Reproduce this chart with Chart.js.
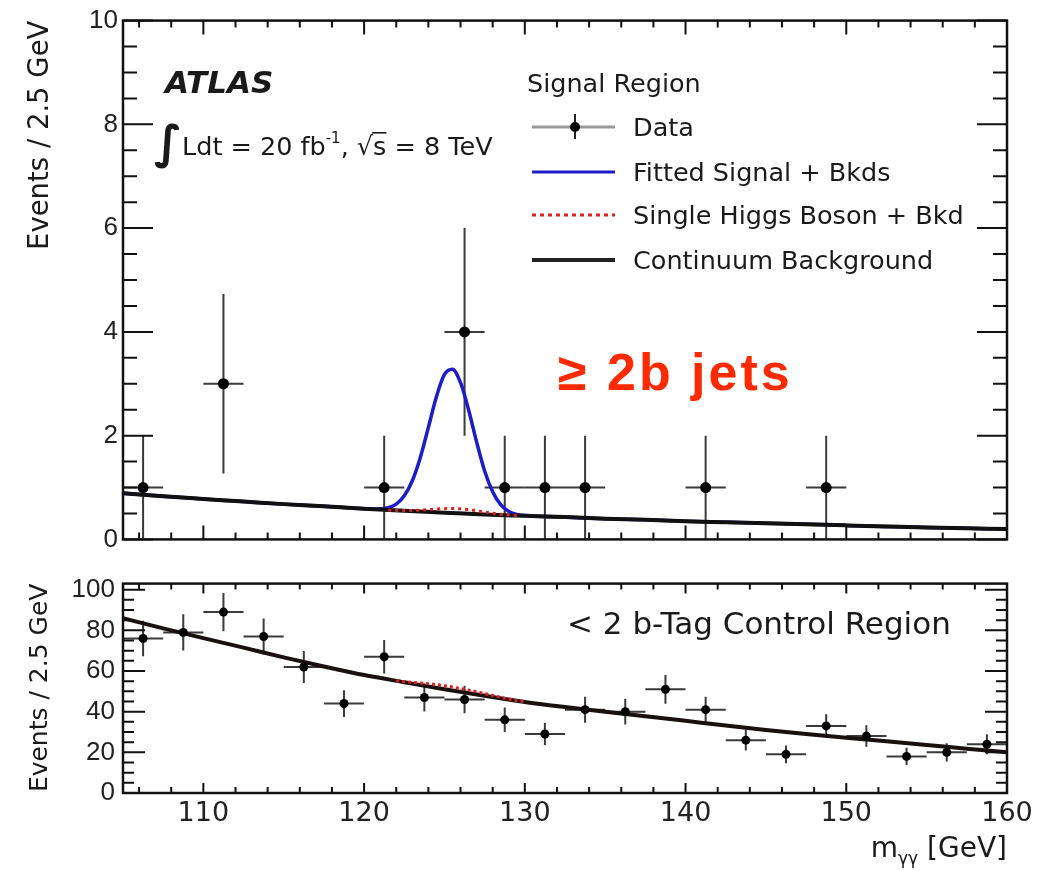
<!DOCTYPE html>
<html>
<head>
<meta charset="utf-8">
<script src="https://cdn.jsdelivr.net/npm/chart.js@4.4.0/dist/chart.umd.min.js"></script>
<style>
  body { margin: 0; background: #fff; }
  canvas { position: absolute; left: 0; }
  #sig { top: 0; }
  #ctrl { top: 560px; }
</style>
</head>
<body>
<canvas id="sig" width="1048" height="560"></canvas>
<canvas id="ctrl" width="1048" height="311"></canvas>
<script>
// tick labels
const xTicks = [110, 120, 130, 140, 150, 160];
const sigYTicks = [0, 2, 4, 6, 8, 10];
const ctrlYTicks = [0, 20, 40, 60, 80, 100];

// signal region data (>= 2 b-tags), bin centres in GeV
const sigX = [106.25, 111.25, 121.25, 126.25, 128.75, 131.25, 133.75, 141.25, 148.75];
const sigY = [1, 3, 1, 4, 1, 1, 1, 1, 1];
const sigErr = [1, 1.73, 1, 2, 1, 1, 1, 1, 1];

// control region data (< 2 b-tags)
const ctrlX = [106.25, 108.75, 111.25, 113.75, 116.25, 118.75, 121.25, 123.75, 126.25, 128.75, 131.25,
               133.75, 136.25, 138.75, 141.25, 143.75, 146.25, 148.75, 151.25, 153.75, 156.25, 158.75];
const ctrlY = [76, 79, 89, 77, 62, 44, 67, 47, 46, 36, 29, 41, 40, 51, 41, 26, 19, 33, 28, 18, 20, 24];
const ctrlErr = [8.7, 8.9, 9.4, 8.8, 7.9, 6.6, 8.2, 6.9, 6.8, 6.0, 5.4, 6.4, 6.3, 7.1, 6.4, 5.1, 4.4, 5.7, 5.3, 4.2, 4.5, 4.9];
const binHalf = 1.25;

// continuum background curves
const bgX = [105, 107.5, 110, 112.5, 115, 117.5, 120, 122.5, 125, 127.5, 130, 132.5, 135, 137.5, 140,
             142.5, 145, 147.5, 150, 152.5, 155, 157.5, 160];
const sigBgY = [0.89, 0.83, 0.78, 0.73, 0.68, 0.64, 0.59, 0.55, 0.515, 0.48, 0.455, 0.43, 0.40, 0.38, 0.35,
                0.33, 0.31, 0.29, 0.27, 0.25, 0.23, 0.215, 0.20];
const ctrlBgY = [86, 81, 76.2, 71.5, 66.7, 62.2, 58, 54.5, 51, 47.8, 44.8, 42.3, 40, 37.8, 35.5,
                 33.2, 31, 29, 27.2, 25.4, 23.6, 21.8, 20];

// fitted signal + backgrounds (signal region)
const fitX = [105, 107.5, 110, 112.5, 115, 117.5, 120,
              120.5, 121, 121.5, 122, 122.5, 123, 123.5, 124, 124.5, 125,
              125.5, 126, 126.5, 127, 127.5, 128, 128.5, 129, 129.5, 130,
              132.5, 135, 137.5, 140, 142.5, 145, 147.5, 150, 152.5, 155, 157.5, 160];
const fitY = [0.89, 0.83, 0.78, 0.73, 0.68, 0.64, 0.59,
              0.585, 0.59, 0.61, 0.68, 0.84, 1.13, 1.58, 2.16, 2.75, 3.18,
              3.28, 3.02, 2.50, 1.88, 1.32, 0.92, 0.67, 0.54, 0.48, 0.46,
              0.43, 0.40, 0.38, 0.35, 0.33, 0.31, 0.29, 0.27, 0.25, 0.23, 0.215, 0.20];

// single Higgs boson + background
const higgsX = [121.5, 122.5, 123.5, 124.5, 125.5, 126.5, 127.5, 128.5, 129.5];
const higgsY = [0.565, 0.555, 0.565, 0.585, 0.595, 0.575, 0.525, 0.485, 0.46];
const ctrlHiggsX = [122, 123, 124, 125, 126, 127, 128, 129, 130];
const ctrlHiggsY = [55.2, 54.4, 53.8, 52.8, 51.4, 49.8, 48.0, 46.2, 44.9];

const legendLabels = ['Data', 'Fitted Signal + Bkds', 'Single Higgs Boson + Bkd', 'Continuum Background'];

const BLUE = '#1c1cc8';
const RED = '#e02020';
const TXT = '#1a1a1a';

function pts(xs, ys) { return xs.map((x, i) => ({ x: x, y: ys[i] })); }

// error bars drawn under the markers
const errorBars = {
  id: 'errorBars',
  beforeDatasetsDraw(chart, args, o) {
    const { ctx, scales: { x, y } } = chart;
    ctx.save();
    ctx.strokeStyle = '#3a3a3a';
    ctx.lineWidth = o.width;
    o.xs.forEach((v, i) => {
      const px = x.getPixelForValue(v);
      const py = y.getPixelForValue(o.ys[i]);
      ctx.beginPath();
      ctx.moveTo(x.getPixelForValue(v - binHalf), py);
      ctx.lineTo(x.getPixelForValue(v + binHalf), py);
      ctx.moveTo(px, y.getPixelForValue(Math.max(0, o.ys[i] - o.errs[i])));
      ctx.lineTo(px, y.getPixelForValue(o.ys[i] + o.errs[i]));
      ctx.stroke();
    });
    ctx.restore();
  }
};

// ROOT style frame with inward ticks on all four sides
const frameTicks = {
  id: 'frameTicks',
  afterDraw(chart, args, o) {
    const { ctx, chartArea: a, scales: { x, y } } = chart;
    const steps = (min, max, step) => {
      const out = [];
      const n0 = Math.ceil(min / step - 1e-9), n1 = Math.floor(max / step + 1e-9);
      for (let n = n0; n <= n1; n++) out.push(n * step);
      return out;
    };
    const isMajor = (v, m) => Math.abs(v / m - Math.round(v / m)) < 1e-6;
    ctx.save();
    ctx.strokeStyle = '#111';
    ctx.lineWidth = 2;
    ctx.beginPath();
    steps(x.min, x.max, o.xMinor).forEach(v => {
      const px = x.getPixelForValue(v);
      const len = isMajor(v, o.xMajor) ? o.xMajorLen : o.xMinorLen;
      ctx.moveTo(px, a.bottom); ctx.lineTo(px, a.bottom - len);
      ctx.moveTo(px, a.top); ctx.lineTo(px, a.top + len);
    });
    steps(y.min, y.max, o.yMinor).forEach(v => {
      const py = y.getPixelForValue(v);
      const len = isMajor(v, o.yMajor) ? o.yMajorLen : o.yMinorLen;
      ctx.moveTo(a.left, py); ctx.lineTo(a.left + len, py);
      ctx.moveTo(a.right, py); ctx.lineTo(a.right - len, py);
    });
    ctx.stroke();
    ctx.lineWidth = 2.5;
    ctx.strokeRect(a.left, a.top, a.right - a.left, a.bottom - a.top);
    ctx.restore();
  }
};

const sigText = {
  id: 'sigText',
  afterDraw(chart) {
    const ctx = chart.ctx;
    ctx.save();
    ctx.fillStyle = TXT;
    ctx.font = 'italic bold 31px "DejaVu Sans"';
    ctx.fillText('ATLAS', 165, 93);

    ctx.font = 'bold 46px "DejaVu Sans"';
    ctx.fillText('\u222B', 154, 158);
    let cx = 182;
    const put = (s, font, dy) => {
      ctx.font = font;
      ctx.fillText(s, cx, 155 + (dy || 0));
      const w = ctx.measureText(s).width;
      cx += w;
      return w;
    };
    const f = '25.5px "DejaVu Sans"';
    put('Ldt = 20 fb', f);
    put('-1', '15px "DejaVu Sans"', -12);
    put(', ', f);
    put('\u221A', f);
    const sx = cx;
    const sw = put('s', f);
    ctx.fillRect(sx - 1, 132, sw + 1, 1.6);
    put(' = 8 TeV', f);

    // legend
    ctx.font = '25.5px "DejaVu Sans"';
    ctx.fillText('Signal Region', 527, 92);
    const rows = [127, 172, 215, 260];
    legendLabels.forEach((t, i) => ctx.fillText(t, 633, rows[i] + 9));
    ctx.lineCap = 'butt';
    ctx.strokeStyle = '#9a9a9a'; ctx.lineWidth = 3;
    ctx.beginPath(); ctx.moveTo(532, rows[0]); ctx.lineTo(615, rows[0]); ctx.stroke();
    ctx.strokeStyle = '#222'; ctx.lineWidth = 2;
    ctx.beginPath(); ctx.moveTo(575, rows[0] - 13); ctx.lineTo(575, rows[0] + 12); ctx.stroke();
    ctx.fillStyle = '#000';
    ctx.beginPath(); ctx.arc(575, rows[0], 5, 0, Math.PI * 2); ctx.fill();
    ctx.strokeStyle = BLUE; ctx.lineWidth = 3;
    ctx.beginPath(); ctx.moveTo(532, rows[1]); ctx.lineTo(615, rows[1]); ctx.stroke();
    ctx.strokeStyle = RED; ctx.setLineDash([4, 4]);
    ctx.beginPath(); ctx.moveTo(532, rows[2]); ctx.lineTo(615, rows[2]); ctx.stroke();
    ctx.setLineDash([]);
    ctx.strokeStyle = '#222'; ctx.lineWidth = 4;
    ctx.beginPath(); ctx.moveTo(532, rows[3]); ctx.lineTo(615, rows[3]); ctx.stroke();

    // hand-written note
    ctx.fillStyle = '#ff2a00';
    ctx.font = 'bold 52px "Liberation Sans"';
    ctx.letterSpacing = '3px';
    ctx.fillText('\u2265 2b jets', 558, 390);
    ctx.restore();
  }
};

const ctrlText = {
  id: 'ctrlText',
  afterDraw(chart) {
    const ctx = chart.ctx;
    ctx.save();
    ctx.fillStyle = TXT;
    ctx.font = '31px "DejaVu Sans"';
    ctx.fillText('< 2 b-Tag Control Region', 567, 74);
    // x axis title, right aligned on the frame
    const main = '28px "DejaVu Sans"', sub = '17px "DejaVu Sans"';
    ctx.font = main; const w1 = ctx.measureText('m').width, w3 = ctx.measureText(' [GeV]').width;
    ctx.font = sub; const w2 = ctx.measureText('\u03B3\u03B3').width;
    let cx = chart.chartArea.right - (w1 + w2 + w3);
    ctx.font = main; ctx.fillText('m', cx, 297); cx += w1;
    ctx.font = sub; ctx.fillText('\u03B3\u03B3', cx, 304); cx += w2;
    ctx.font = main; ctx.fillText(' [GeV]', cx, 297);
    ctx.restore();
  }
};

function axes(p) {
  return {
    x: {
      type: 'linear', min: 105, max: 160,
      grid: { display: false, drawTicks: false }, border: { display: false },
      afterBuildTicks: s => { s.ticks = xTicks.map(v => ({ value: v })); },
      ticks: { display: p.xLabels, font: { family: 'DejaVu Sans', size: 27 }, color: '#222',
               padding: 5, maxRotation: 0, autoSkip: false },
      afterFit: s => { s.height = p.xHeight; }
    },
    y: {
      type: 'linear', min: 0, max: p.yMax,
      grid: { display: false, drawTicks: false }, border: { display: false },
      afterBuildTicks: s => { s.ticks = p.yTicks.map(v => ({ value: v })); },
      ticks: { font: { family: 'Liberation Sans', size: 26 }, color: '#222', padding: p.yPad, autoSkip: false },
      title: { display: true, text: 'Events / 2.5 GeV', align: 'end', color: TXT,
               font: { family: 'DejaVu Sans', size: p.titleSize }, padding: { top: p.titlePad, bottom: 0 } },
      afterFit: s => { s.width = 123; }
    }
  };
}

const curve = (data, color, width, dash, order) => ({
  data: data, showLine: true, pointRadius: 0, borderColor: color, borderWidth: width,
  borderDash: dash, cubicInterpolationMode: 'monotone', order: order
});

new Chart(document.getElementById('sig'), {
  type: 'scatter',
  data: {
    datasets: [
      { data: pts(sigX, sigY), pointRadius: 5.5, pointBackgroundColor: '#000', pointBorderWidth: 0, order: 0 },
      curve(pts(higgsX, higgsY), RED, 3, [3, 4], 1),
      curve(pts(bgX, sigBgY), '#111', 4, [], 2),
      curve(pts(fitX, fitY), BLUE, 3.5, [], 3)
    ]
  },
  options: {
    responsive: false, animation: false,
    layout: { padding: { top: 18, right: 41, left: 0, bottom: 0 } },
    plugins: {
      legend: { display: false }, tooltip: { enabled: false },
      errorBars: { xs: sigX, ys: sigY, errs: sigErr, width: 2 },
      frameTicks: { xMajor: 10, xMinor: 2, xMajorLen: 14, xMinorLen: 7,
                    yMajor: 2, yMinor: 0.5, yMajorLen: 30, yMinorLen: 14 }
    },
    scales: axes({ xLabels: false, xHeight: 12, yMax: 10, yTicks: sigYTicks, yPad: 5, titleSize: 27.5, titlePad: 24 })
  },
  plugins: [errorBars, frameTicks, sigText]
});

new Chart(document.getElementById('ctrl'), {
  type: 'scatter',
  data: {
    datasets: [
      { data: pts(ctrlX, ctrlY), pointRadius: 4.5, pointBackgroundColor: '#000', pointBorderWidth: 0, order: 0 },
      curve(pts(ctrlHiggsX, ctrlHiggsY), RED, 3, [3, 3], 1),
      curve(pts(bgX, ctrlBgY), '#1a1010', 4, [], 2)
    ]
  },
  options: {
    responsive: false, animation: false,
    layout: { padding: { top: 16, right: 41, left: 0, bottom: 0 } },
    plugins: {
      legend: { display: false }, tooltip: { enabled: false },
      errorBars: { xs: ctrlX, ys: ctrlY, errs: ctrlErr, width: 2 },
      frameTicks: { xMajor: 10, xMinor: 2, xMajorLen: 10, xMinorLen: 6,
                    yMajor: 20, yMinor: 5, yMajorLen: 22, yMinorLen: 11 }
    },
    scales: axes({ xLabels: true, xHeight: 78, yMax: 103, yTicks: ctrlYTicks, yPad: 8, titleSize: 25, titlePad: 25 })
  },
  plugins: [errorBars, frameTicks, ctrlText]
});
</script>
</body>
</html>
